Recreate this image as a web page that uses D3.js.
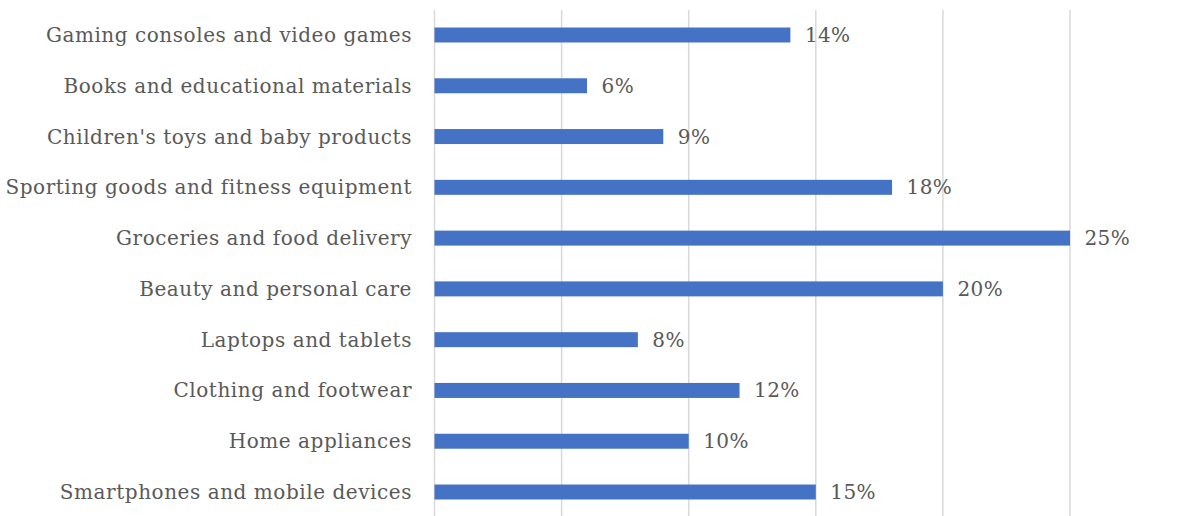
<!DOCTYPE html>
<html>
<head>
<meta charset="utf-8">
<script src="https://cdn.jsdelivr.net/npm/d3@7/dist/d3.min.js"></script>
<style>
  html, body { margin: 0; padding: 0; background: #fff; }
  svg text { font-family: "DejaVu Serif", "Liberation Serif", serif; fill: #595959; }
</style>
</head>
<body>
<svg id="chart" width="1189" height="516"></svg>
<script>
// Categories listed top to bottom as shown
const categories = [
  "Gaming consoles and video games",
  "Books and educational materials",
  "Children's toys and baby products",
  "Sporting goods and fitness equipment",
  "Groceries and food delivery",
  "Beauty and personal care",
  "Laptops and tablets",
  "Clothing and footwear",
  "Home appliances",
  "Smartphones and mobile devices"
];
const shares = [14, 6, 9, 18, 25, 20, 8, 12, 10, 15];
const gridTicks = [0, 5, 10, 15, 20, 25];

const svg = d3.select("#chart");
const x0 = 434.5, x1 = 1070;
const yTop = 9.6, yBottom = 517.4;

const x = d3.scaleLinear().domain([0, 25]).range([x0, x1]);
const y = d3.scaleBand().domain(categories).range([yTop, yBottom])
  .paddingInner(0.705).paddingOuter(0.705 / 2);

// vertical gridlines
svg.append("g").selectAll("line").data(gridTicks).join("line")
  .attr("x1", d => x(d)).attr("x2", d => x(d))
  .attr("y1", 10).attr("y2", 516)
  .attr("stroke", "#d9d9d9").attr("stroke-width", 1.5);

// bars
svg.append("g").selectAll("rect").data(shares).join("rect")
  .attr("x", x(0))
  .attr("y", (d, i) => y(categories[i]))
  .attr("width", d => x(d) - x(0))
  .attr("height", y.bandwidth())
  .attr("fill", "#4472c4");

// category labels
const fs = 20;
svg.append("g").selectAll("text").data(categories).join("text")
  .attr("x", 412)
  .attr("y", d => y(d) + y.bandwidth() / 2)
  .attr("dy", "0.35em")
  .attr("text-anchor", "end")
  .attr("font-size", fs)
  .attr("letter-spacing", 0.55)
  .text(d => d);

// value labels
svg.append("g").selectAll("text").data(shares).join("text")
  .attr("x", d => x(d) + 14.5)
  .attr("y", (d, i) => y(categories[i]) + y.bandwidth() / 2)
  .attr("dy", "0.35em")
  .attr("font-size", fs)
  .attr("letter-spacing", 0.4)
  .text(d => d + "%");
</script>
</body>
</html>
